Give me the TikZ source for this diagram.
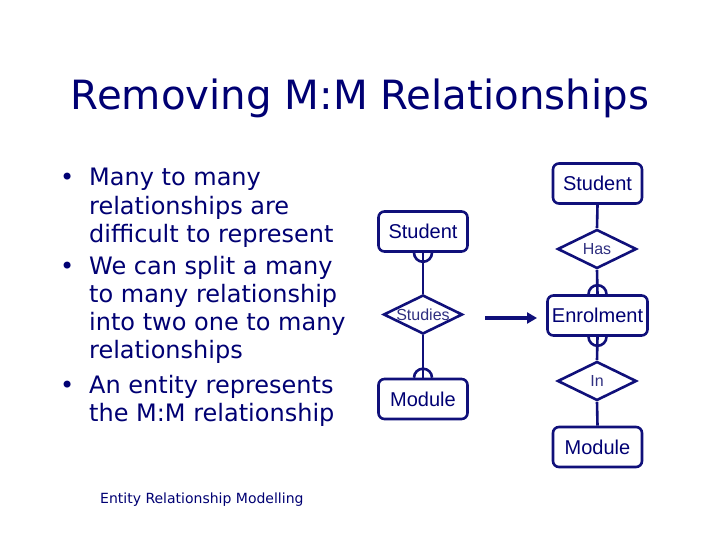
\documentclass[tikz,border=0pt]{standalone}
\usepackage{fontspec}
\setmainfont{DejaVu Sans}
\newfontfamily\arialfont{Liberation Sans}
\usetikzlibrary{shapes.geometric,arrows.meta}
\definecolor{navy}{HTML}{000073}
\definecolor{linecol}{HTML}{10107A}
\definecolor{relcol}{HTML}{303080}
\tikzset{
  entity/.style={draw=linecol, line width=2.6pt, rounded corners=6pt, fill=white,
    minimum width=#1, minimum height=40pt, inner sep=0pt, text=navy,
    font=\arialfont\fontsize{20}{22}\selectfont},
  entity/.default=89pt,
  rel/.style={draw=linecol, line width=2.6pt, diamond, aspect=2.0, inner sep=0pt,
    minimum width=79pt, minimum height=39pt, fill=white, text=relcol,
    font=\arialfont\fontsize{16}{18}\selectfont},
  link/.style={draw=linecol, line width=2.6pt},
  bullettext/.style={anchor=base west, align=left, text=navy, inner sep=0pt,
    font=\fontsize{24}{28}\selectfont},
  dot/.style={anchor=base west, text=navy, inner sep=0pt, font=\fontsize{24}{28}\selectfont}
}
\newcommand{\manyup}[1]{\draw[link] ([xshift=-9pt]#1) arc[start angle=180, end angle=0, radius=9pt];}
\newcommand{\manydown}[1]{\draw[link] ([xshift=-9pt]#1) arc[start angle=180, end angle=360, radius=9pt];}
\begin{document}
\begin{tikzpicture}[x=1pt,y=-1pt]
\useasboundingbox[fill=white] (0,0) rectangle (720,540);
% title
\node[anchor=base, text=navy, inner sep=0pt, font=\fontsize{40.3}{44}\selectfont] (title) at (360,110) {Removing M:M Relationships};
% bullets (anchor at baseline of last line)
\node[dot] (d1) at (60,186) {•};
\node[bullettext] (b1) at (89,242) {Many to many\\relationships are\\difficult to represent};
\node[dot] (d2) at (60,274) {•};
\node[bullettext] (b2) at (89,358) {We can split a many\\to many relationship\\into two one to many\\relationships};
\node[dot] (d3) at (60,393) {•};
\node[bullettext] (b3) at (89,421) {An entity represents\\the M:M relationship};
% footer
\node[anchor=base west, inner sep=0pt, text=navy, font=\fontsize{14}{16}\selectfont] (foot) at (100,503) {Entity Relationship Modelling};
% left diagram
\node[entity] (s1) at (423,231.5) {Student};
\node[rel] (st) at (423,314.5) {Studies};
\node[entity] (m1) at (423,399) {Module};
\draw[link] (s1.south) -- (st.north);
\draw[link] (m1.north) -- (st.south);
\manydown{s1.south}
\manyup{m1.north}
% arrow
\coordinate (a0) at (485,318);
\coordinate (a1) at (537,318);
\draw[draw=linecol, line width=3.5pt, -{Triangle[length=10pt,width=11pt]}] (a0) -- (a1);
% right diagram
\node[entity] (s2) at (597.5,183.5) {Student};
\node[rel] (has) at (597,249) {Has};
\node[entity=100pt] (en) at (597.5,315.5) {Enrolment};
\node[rel] (in) at (597,381) {In};
\node[entity] (m2) at (597.5,447) {Module};
\draw[link] (s2.south) -- (has.north);
\draw[link] (has.south) -- (en.north);
\draw[link] (en.south) -- (in.north);
\draw[link] (in.south) -- (m2.north);
\manyup{en.north}
\manydown{en.south}
\end{tikzpicture}
\end{document}
